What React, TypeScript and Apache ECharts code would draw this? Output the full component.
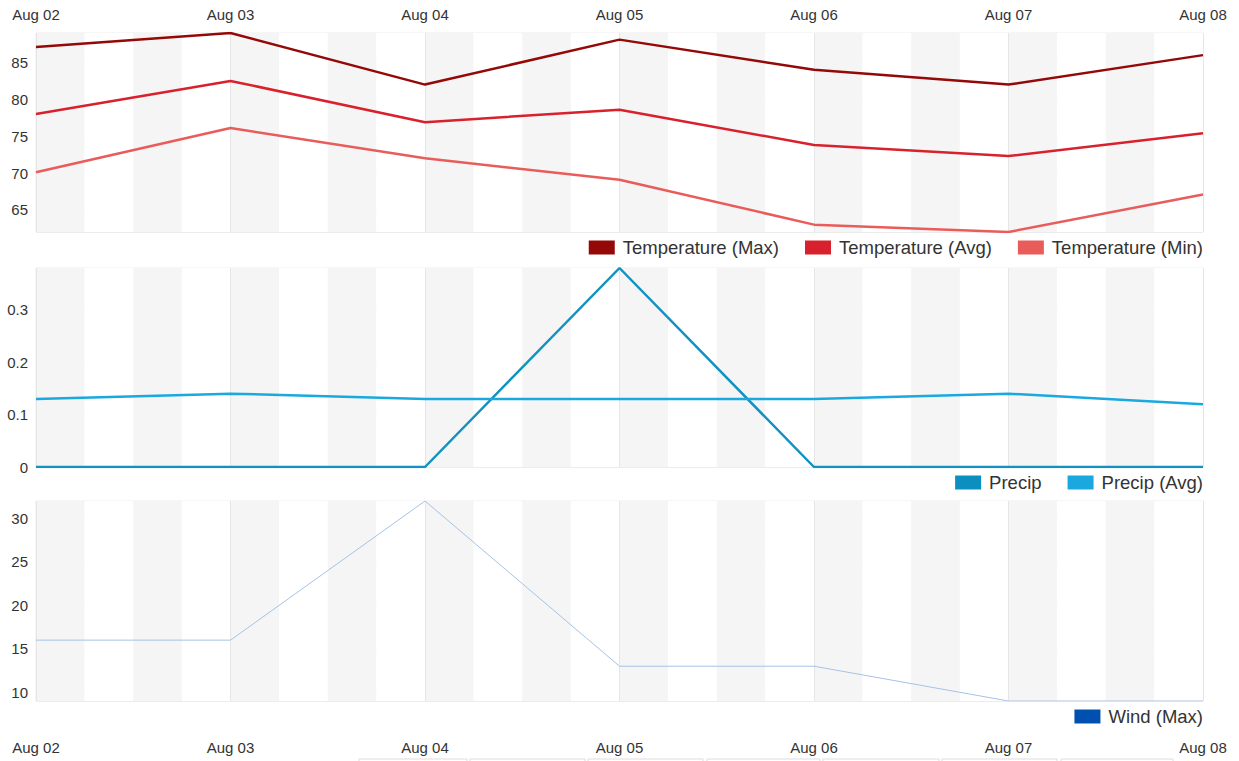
import React, { useEffect, useRef } from "react";
import * as echarts from "echarts";

const days = ["Aug 02", "Aug 03", "Aug 04", "Aug 05", "Aug 06", "Aug 07", "Aug 08"];
const tempMax = [87.1, 89, 82, 88.1, 84, 82, 86];
const tempAvg = [78, 82.5, 76.9, 78.6, 73.8, 72.3, 75.4];
const tempMin = [70.1, 76.1, 72, 69.1, 63, 62, 67.1];
const precip = [0, 0, 0, 0.38, 0, 0, 0];
const precipAvg = [0.13, 0.14, 0.13, 0.13, 0.13, 0.14, 0.12];
const windMax = [16, 16, 32, 13, 13, 9, 9];

const FONT = "Liberation Sans, Arial, sans-serif";
const LABEL = "#333";

export default function App() {
  const ref = useRef<HTMLDivElement>(null);
  useEffect(() => {
    if (!ref.current) return;
    const chart = echarts.init(ref.current, null, { renderer: "svg" });
    const grids = [
      { left: 36, right: 36, top: 33, height: 199 },
      { left: 36, right: 36, top: 268, height: 199 },
      { left: 36, right: 36, top: 501, height: 200 },
    ];
    const xAxis: any[] = [];
    grids.forEach((_, i) => {
      xAxis.push({
        type: "category",
        gridIndex: i,
        data: days,
        boundaryGap: false,
        position: i === 0 ? "top" : "bottom",
        axisLine: { show: false },
        axisTick: { show: false },
        axisLabel: {
          show: i !== 1,
          color: LABEL,
          fontSize: 15,
          fontFamily: FONT,
          margin: i === 0 ? 11 : 39,
          showMinLabel: true,
          showMaxLabel: true,
          interval: 0,
        },
        splitLine: { show: true, lineStyle: { color: "#e6e6e6", width: 1 } },
        z: 2,
      });
    });
    grids.forEach((_, i) => {
      xAxis.push({
        type: "value",
        gridIndex: i,
        min: 0,
        max: 24,
        interval: 1,
        axisLine: { show: false },
        axisTick: { show: false },
        axisLabel: { show: false },
        splitLine: { show: false },
        splitArea: { show: true, areaStyle: { color: ["#f5f5f5", "#ffffff"] } },
      });
    });
    const yBase = (i: number, min: number, max: number, hideMin: boolean) => ({
      type: "value",
      gridIndex: i,
      min,
      max,
      axisLine: { show: false },
      axisTick: { show: false },
      axisLabel: {
        color: LABEL,
        fontSize: 15,
        fontFamily: FONT,
        margin: 8,
        showMinLabel: !hideMin,
        showMaxLabel: false,
      },
      splitLine: { show: true, lineStyle: { color: "#ececec" } },
    });
    const yAxis = [yBase(0, 62, 89, true), yBase(1, 0, 0.38, false), yBase(2, 9, 32, true)];
    const line = (name: string, data: number[], grid: number, color: string, width: number, lineColor?: string) => ({
      name,
      type: "line",
      xAxisIndex: grid,
      yAxisIndex: grid,
      data,
      showSymbol: false,
      symbol: "none",
      itemStyle: { color },
      lineStyle: { color: lineColor || color, width },
      z: 3,
    });
    const legend = (data: string[], top: number) => ({
      data,
      right: 31,
      top,
      icon: "rect",
      itemWidth: 26,
      itemHeight: 14,
      itemGap: 26,
      textStyle: { color: LABEL, fontSize: 18.5, fontFamily: FONT, padding: [0, 0, 0, 3] },
      selectedMode: false,
    });
    const boxes = [
      [359, 108],
      [470, 115],
      [588, 115],
      [707, 113],
      [823, 116],
      [942, 115],
      [1061, 112],
    ];
    chart.setOption({
      animation: false,
      backgroundColor: "#fff",
      grid: grids.map((g) => ({ ...g, show: true, borderColor: "#ececec", borderWidth: 1, backgroundColor: "transparent" })),
      xAxis,
      yAxis,
      legend: [
        legend(["Temperature (Max)", "Temperature (Avg)", "Temperature (Min)"], 233),
        legend(["Precip", "Precip (Avg)"], 468),
        legend(["Wind (Max)"], 702),
      ],
      series: [
        line("Temperature (Max)", tempMax, 0, "#940808", 2.5),
        line("Temperature (Avg)", tempAvg, 0, "#d8212c", 2.5),
        line("Temperature (Min)", tempMin, 0, "#e85c5a", 2.5),
        line("Precip", precip, 1, "#0a8fc0", 2.5, "#1192c2"),
        line("Precip (Avg)", precipAvg, 1, "#19a9df", 2.5),
        line("Wind (Max)", windMax, 2, "#0050b0", 1, "#a6c2e6"),
      ],
      graphic: boxes.map(([x, w]) => ({
        type: "rect",
        shape: { x, y: 759, width: w, height: 10 },
        style: { fill: "#fff", stroke: "#dddddd", lineWidth: 1 },
      })),
    });
    return () => chart.dispose();
  }, []);
  return <div ref={ref} style={{ position: "fixed", left: 0, top: 0, width: 1239, height: 761 }} />;
}
